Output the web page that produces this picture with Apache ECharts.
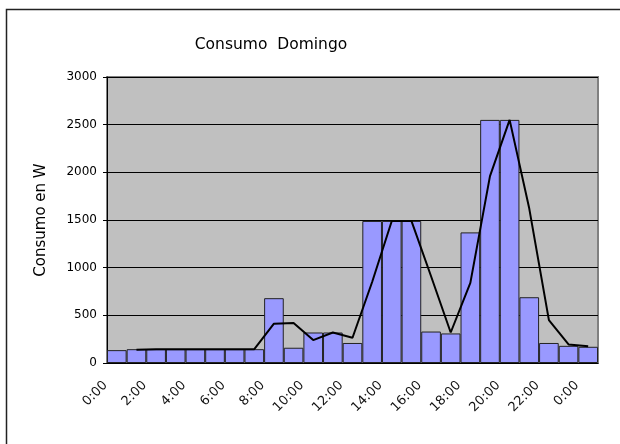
<!DOCTYPE html>
<html>
<head>
<meta charset="utf-8">
<script src="https://cdn.jsdelivr.net/npm/echarts@6/dist/echarts.min.js"></script>
<style>
  html, body { margin: 0; padding: 0; background: #fff; }
  #chart { width: 620px; height: 444px; }
</style>
</head>
<body>
<div id="chart"></div>
<script>
// horas (25 puntos, la última es 0:00 del día siguiente)
const horas = ['0:00', '1:00', '2:00', '3:00', '4:00', '5:00', '6:00', '7:00', '8:00', '9:00',
  '10:00', '11:00', '12:00', '13:00', '14:00', '15:00', '16:00', '17:00', '18:00', '19:00',
  '20:00', '21:00', '22:00', '23:00', '0:00'];

// consumo por hora (W)
const consumo = [135, 145, 145, 145, 145, 145, 145, 145, 680, 160,
  320, 320, 210, 1490, 1490, 1490, 330, 310, 1370, 2550,
  2550, 690, 210, 180, 170];

// línea de tendencia
const tendencia = [null, 140, 145, 145, 145, 145, 145, 145, 412, 420,
  240, 320, 265, 850, 1490, 1490, 910, 320, 840, 1960,
  2550, 1620, 450, 195, 175];

const chart = echarts.init(document.getElementById('chart'));

const option = {
  backgroundColor: '#fff',
  animation: false,
  title: {
    text: 'Consumo  Domingo',
    left: 266,
    top: 32,
    textAlign: 'center',
    textStyle: { fontFamily: 'DejaVu Sans', fontSize: 15.5, fontWeight: 'normal', color: '#000' }
  },
  graphic: [
    {
      type: 'rect',
      shape: { x: 6.5, y: 9.5, width: 700, height: 500 },
      style: { fill: 'none', stroke: '#222', lineWidth: 1.5 },
      silent: true
    }
  ],
  grid: {
    left: 107, top: 77, right: 22, bottom: 81,
    show: true,
    backgroundColor: '#c0c0c0',
    borderColor: '#808080',
    borderWidth: 2
  },
  xAxis: {
    type: 'category',
    data: horas,
    boundaryGap: true,
    axisLine: { lineStyle: { color: '#000', width: 1 } },
    axisTick: { interval: 0, length: 4, lineStyle: { color: '#000' } },
    axisLabel: {
      interval: 1,
      rotate: 45,
      margin: 9,
      padding: [0, 16, 0, 0],
      color: '#111',
      fontFamily: 'DejaVu Sans',
      fontSize: 13
    }
  },
  yAxis: {
    type: 'value',
    min: 0,
    max: 3000,
    interval: 500,
    name: 'Consumo en W',
    nameLocation: 'middle',
    nameGap: 58,
    nameTextStyle: { fontFamily: 'DejaVu Sans', fontSize: 15, color: '#000' },
    axisLine: { show: true, lineStyle: { color: '#000', width: 1 } },
    axisTick: { show: true, length: 4, lineStyle: { color: '#000' } },
    axisLabel: {
      margin: 10,
      color: '#000',
      fontFamily: 'DejaVu Sans',
      fontSize: 12,
      formatter: v => String(v)
    },
    splitLine: { lineStyle: { color: '#000', width: 1 } }
  },
  series: [
    {
      name: 'Consumo',
      type: 'bar',
      data: consumo,
      barCategoryGap: 0,
      itemStyle: { color: '#9999ff', borderColor: '#222', borderWidth: 1 }
    },
    {
      name: 'Tendencia',
      type: 'line',
      data: tendencia,
      symbol: 'none',
      lineStyle: { color: '#000', width: 2 }
    }
  ]
};

chart.setOption(option);
</script>
</body>
</html>
